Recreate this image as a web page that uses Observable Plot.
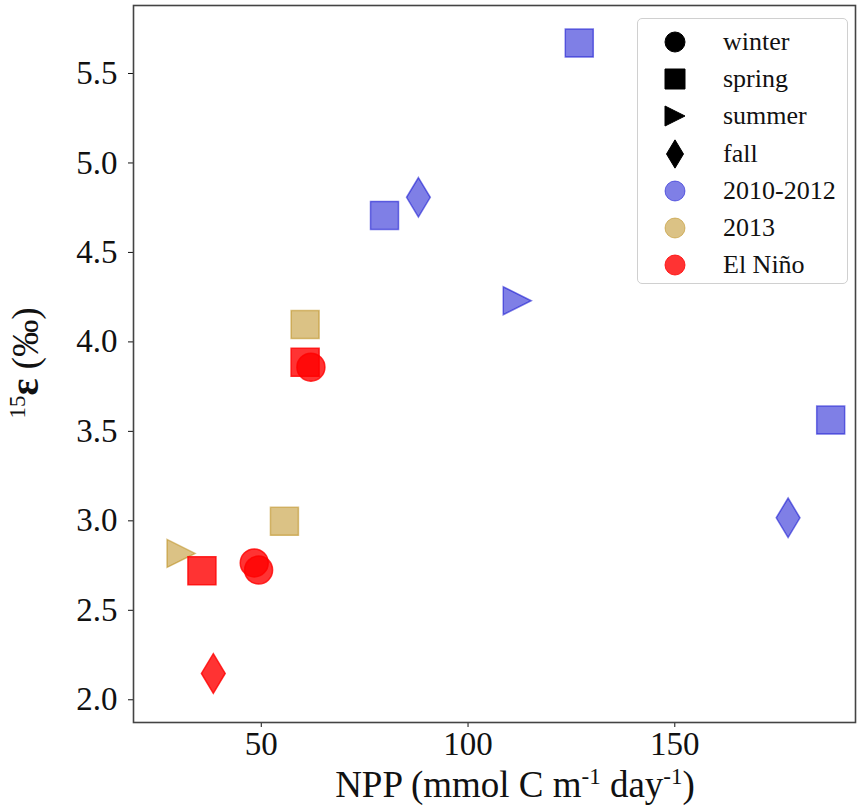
<!DOCTYPE html>
<html>
<head>
<meta charset="utf-8">
<script src="https://cdn.jsdelivr.net/npm/d3@7"></script>
<script src="https://cdn.jsdelivr.net/npm/@observablehq/plot@0.6"></script>
<style>
  html, body { margin: 0; padding: 0; background: #fff; }
  #wrap { position: relative; width: 857px; height: 810px; font-family: "Liberation Serif", "Times New Roman", serif; }
  #legend { position: absolute; left: 637px; top: 18px; width: 211px; height: 266px; border: 1px solid #d0d0d0; border-radius: 5px; background: rgba(255,255,255,0.85); box-sizing: border-box; }
  .row { position: absolute; left: 0; height: 30px; display: flex; align-items: center; }
  .row svg { position: absolute; left: 24px; }
  .row span { position: absolute; left: 85px; font-size: 26px; color: #111; white-space: nowrap; line-height: 30px; }
</style>
</head>
<body>
<div id="wrap"><div id="legend"></div></div>
<script>
// ---- data ----
const seasons = ["winter", "spring", "summer", "fall"];
const periods = ["2010-2012", "2013", "El Niño"];
const periodColors = ["rgba(0,0,205,0.5)", "rgba(184,134,11,0.5)", "rgba(255,0,0,0.8)"];

const pointPeriod = ["2010-2012","2010-2012","2010-2012","2010-2012","2010-2012","2010-2012",
                     "2013","2013","2013",
                     "El Niño","El Niño","El Niño","El Niño","El Niño","El Niño"];
const pointSeason = ["spring","spring","fall","summer","spring","fall",
                     "spring","spring","summer",
                     "spring","winter","spring","winter","winter","fall"];
const npp = [126.9, 79.8, 88.0, 111.9, 187.7, 177.4,
             60.6, 55.6, 30.6,
             60.6, 62.0, 35.65, 48.3, 49.35, 38.4];
const eps = [5.67, 4.707, 4.808, 4.23, 3.563, 3.017,
             4.097, 2.997, 2.818,
             3.886, 3.859, 2.721, 2.765, 2.725, 2.147];

const xTicks = [50, 100, 150];
const yTicks = [2.0, 2.5, 3.0, 3.5, 4.0, 4.5, 5.0, 5.5];

const data = npp.map((v, i) => ({npp: v, eps: eps[i], season: pointSeason[i], period: pointPeriod[i]}));

// ---- marker shapes (matplotlib-like) ----
function shape(kind) {
  return {
    draw(ctx, size) {
      const r = Math.sqrt(size / Math.PI);
      if (kind === "winter") { ctx.moveTo(r, 0); ctx.arc(0, 0, r, 0, 2 * Math.PI); }
      else if (kind === "spring") { ctx.moveTo(-r, -r); ctx.lineTo(r, -r); ctx.lineTo(r, r); ctx.lineTo(-r, r); ctx.closePath(); }
      else if (kind === "summer") { ctx.moveTo(r, 0); ctx.lineTo(-r, -r); ctx.lineTo(-r, r); ctx.closePath(); }
      else { const h = r * 1.414, w = r * 0.849; ctx.moveTo(0, -h); ctx.lineTo(w, 0); ctx.lineTo(0, h); ctx.lineTo(-w, 0); ctx.closePath(); }
    }
  };
}

const drawOrder = ["fall", "summer", "spring", "winter"];

const chart = Plot.plot({
  width: 857,
  height: 810,
  marginLeft: 133,
  marginRight: 2,
  marginTop: 5,
  marginBottom: 88,
  style: {fontFamily: "'Liberation Serif', 'Times New Roman', serif", fontSize: "33px", color: "#111", background: "transparent"},
  x: {domain: [19.1, 193.7], ticks: xTicks, tickSize: 5, tickPadding: 4, label: null},
  y: {domain: [1.873, 5.88], ticks: yTicks, tickFormat: d3.format(".1f"), tickSize: 5, tickPadding: 11, label: null},
  color: {type: "ordinal", domain: periods, range: periodColors},
  marks: [
    ...drawOrder.map(s => Plot.dot(data.filter(d => d.season === s), {
      x: "npp", y: "eps", symbol: shape(s), r: 14,
      fill: "period", stroke: "period", strokeWidth: 1.5
    })),
    Plot.frame({stroke: "#444", strokeWidth: 1.6})
  ]
});

document.getElementById("wrap").prepend(chart);

// axis labels with superscripts
const svg = d3.select(chart);
const xl = svg.append("text")
  .attr("x", 515).attr("y", 797)
  .attr("text-anchor", "middle")
  .attr("fill", "#111")
  .style("font-size", "37px");
xl.append("tspan").text("NPP (mmol C m");
xl.append("tspan").attr("dy", -13).style("font-size", "23px").text("-1");
xl.append("tspan").attr("dy", 13).text(" day");
xl.append("tspan").attr("dy", -13).style("font-size", "23px").text("-1");
xl.append("tspan").attr("dy", 13).text(")");

const yl = svg.append("text")
  .attr("transform", "translate(38,363) rotate(-90)")
  .attr("text-anchor", "middle")
  .attr("fill", "#111")
  .style("font-size", "37px");
yl.append("tspan").attr("dy", -13).style("font-size", "23px").text("15");
yl.append("tspan").attr("dy", 13).style("font-weight", "bold").style("font-size", "40px").text("ε");
yl.append("tspan").text(" (‰)");

// legend
const legend = document.getElementById("legend");
const entries = seasons.map(s => ({label: s, sym: shape(s), color: "#000"}))
  .concat(periods.map((p, i) => ({label: p, sym: shape("winter"), color: periodColors[i]})));
entries.forEach((e, i) => {
  const row = document.createElement("div");
  row.className = "row";
  row.style.top = (8 + i * 37.2) + "px";
  const p = d3.path();
  e.sym.draw(p, 10 * 10 * Math.PI);
  row.innerHTML = `<svg width="26" height="30" viewBox="-13 -15 26 30"><path d="${p.toString()}" fill="${e.color}" stroke="${e.color}" stroke-width="1"/></svg><span>${e.label}</span>`;
  legend.appendChild(row);
});
</script>
</body>
</html>
